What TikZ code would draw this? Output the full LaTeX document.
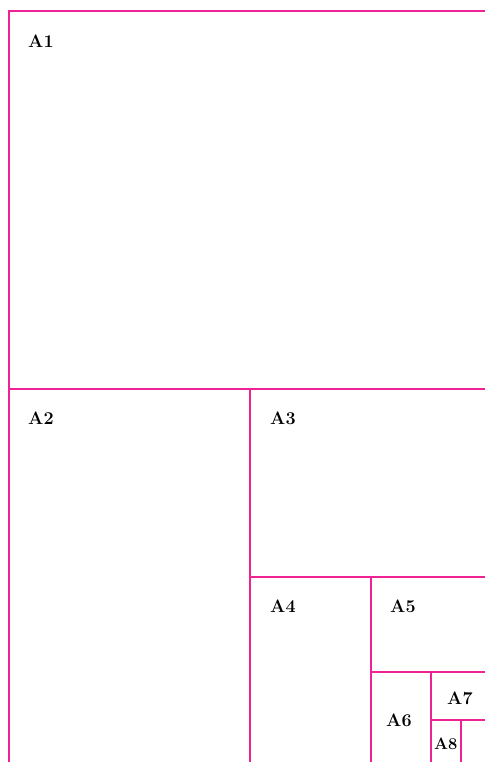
\documentclass[tikz,border=0pt]{standalone}
\usepackage{fontspec}
\definecolor{sheetpink}{RGB}{238,34,148}
\tikzset{
  cut/.style={draw=sheetpink, line width=2.4pt},
  size/.style={anchor=west, inner sep=0pt, font=\fontsize{18}{18}\selectfont\bfseries},
  small size/.style={size, font=\fontsize{16.5}{16.5}\selectfont\bfseries}
}
\begin{document}
\begin{tikzpicture}[x=1pt,y=-1pt]
\useasboundingbox (0,0) rectangle (485,762);
% outer sheet
\draw[cut] (485,11) -- (9,11) -- (9,762);
% halving lines
\draw[cut] (9,389) -- (485,389);
\draw[cut] (250,389) -- (250,762);
\draw[cut] (250,577) -- (485,577);
\draw[cut] (371,577) -- (371,762);
\draw[cut] (371,672) -- (485,672);
\draw[cut] (431,672) -- (431,762);
\draw[cut] (431,720) -- (485,720);
\draw[cut] (461,720) -- (461,762);
% labels
\node[size] (a1) at (28,41) {A1};
\node[size] (a2) at (28,418) {A2};
\node[size] (a3) at (270,418) {A3};
\node[size] (a4) at (270,606) {A4};
\node[size] (a5) at (390,606) {A5};
\node[size] (a6) at (386,720) {A6};
\node[size] (a7) at (447,698) {A7};
\node[small size] (a8) at (434,744) {A8};
\end{tikzpicture}
\end{document}
